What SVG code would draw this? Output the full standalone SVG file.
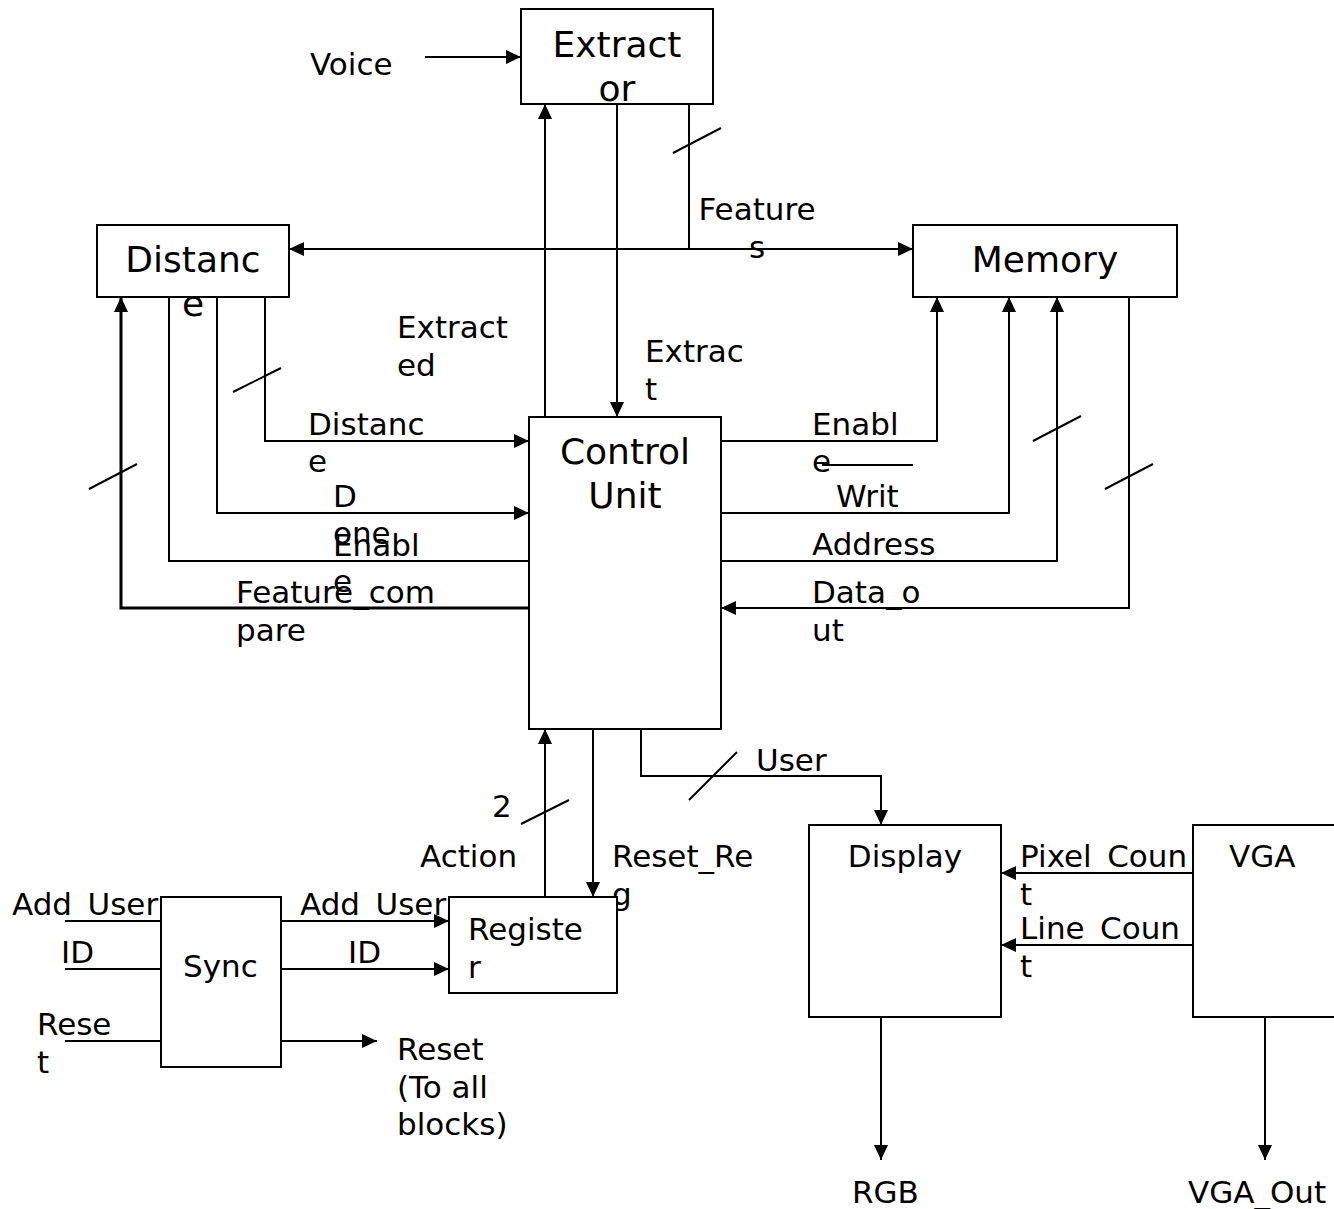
<svg xmlns="http://www.w3.org/2000/svg" width="1334" height="1209" viewBox="0 0 1334 1209">
<style>
.box{fill:#fff;stroke:#000;stroke-width:2}
.ln{fill:none;stroke:#000;stroke-width:2}
.thick{fill:none;stroke:#000;stroke-width:3}
.big{font-family:"DejaVu Sans",sans-serif;font-size:36px;fill:#000}
.sm{font-family:"DejaVu Sans",sans-serif;font-size:31px;fill:#000}
.mid{text-anchor:middle}
</style>
<defs>
<marker id="ah" markerUnits="userSpaceOnUse" markerWidth="16" markerHeight="14" refX="15" refY="7" orient="auto">
<path d="M0,0 L15,7 L0,14 z" fill="#000"/>
</marker>
</defs>
<rect width="1334" height="1209" fill="#fff"/>

<g id="connectors">
<line class="ln" x1="425" y1="57" x2="521" y2="57" marker-end="url(#ah)"/>
<line class="ln" x1="545" y1="417" x2="545" y2="104" marker-end="url(#ah)"/>
<line class="ln" x1="617" y1="104" x2="617" y2="417" marker-end="url(#ah)"/>
<line class="ln" x1="689" y1="104" x2="689" y2="249"/>
<line class="ln" x1="673" y1="153" x2="721" y2="128"/>
<line class="ln" x1="689" y1="249" x2="289" y2="249" marker-end="url(#ah)"/>
<line class="ln" x1="689" y1="249" x2="913" y2="249" marker-end="url(#ah)"/>

<polyline class="thick" points="529,608 121,608 121,297" marker-end="url(#ah)"/>
<line class="ln" x1="89" y1="489" x2="137" y2="464"/>
<polyline class="ln" points="169,297 169,561 529,561"/>
<polyline class="ln" points="217,297 217,513 529,513" marker-end="url(#ah)"/>
<polyline class="ln" points="265,297 265,441 529,441" marker-end="url(#ah)"/>
<line class="ln" x1="233" y1="392" x2="281" y2="368"/>

<polyline class="ln" points="721,441 937,441 937,297" marker-end="url(#ah)"/>
<line class="ln" x1="822" y1="465" x2="913" y2="465"/>
<polyline class="ln" points="721,513 1009,513 1009,297" marker-end="url(#ah)"/>
<polyline class="ln" points="721,561 1057,561 1057,297" marker-end="url(#ah)"/>
<line class="ln" x1="1033" y1="441" x2="1081" y2="416"/>
<polyline class="ln" points="1129,297 1129,608 721,608" marker-end="url(#ah)"/>
<line class="ln" x1="1105" y1="489" x2="1153" y2="464"/>

<line class="ln" x1="545" y1="897" x2="545" y2="729" marker-end="url(#ah)"/>
<line class="ln" x1="521" y1="824" x2="569" y2="800"/>
<line class="ln" x1="593" y1="729" x2="593" y2="897" marker-end="url(#ah)"/>
<polyline class="ln" points="641,729 641,776 881,776 881,825" marker-end="url(#ah)"/>
<line class="ln" x1="689" y1="800" x2="737" y2="752"/>

<line class="ln" x1="1193" y1="873" x2="1001" y2="873" marker-end="url(#ah)"/>
<line class="ln" x1="1193" y1="945" x2="1001" y2="945" marker-end="url(#ah)"/>
<line class="ln" x1="881" y1="1017" x2="881" y2="1160" marker-end="url(#ah)"/>
<line class="ln" x1="1265" y1="1017" x2="1265" y2="1160" marker-end="url(#ah)"/>

<line class="ln" x1="65" y1="921" x2="161" y2="921"/>
<line class="ln" x1="65" y1="969" x2="161" y2="969"/>
<line class="ln" x1="65" y1="1041" x2="161" y2="1041"/>
<line class="ln" x1="281" y1="921" x2="449" y2="921" marker-end="url(#ah)"/>
<line class="ln" x1="281" y1="969" x2="449" y2="969" marker-end="url(#ah)"/>
<line class="ln" x1="281" y1="1041" x2="377" y2="1041" marker-end="url(#ah)"/>
</g>

<g id="labels">
<text class="sm" x="310" y="75">Voice</text>
<text class="sm mid" x="757" y="220">Feature</text>
<text class="sm mid" x="757" y="258">s</text>
<text class="sm" x="397" y="338">Extract</text>
<text class="sm" x="397" y="376">ed</text>
<text class="sm" x="645" y="362">Extrac</text>
<text class="sm" x="645" y="400">t</text>
<text class="sm" x="308" y="435">Distanc</text>
<text class="sm" x="308" y="472">e</text>
<text class="sm" x="333" y="507">D</text>
<text class="sm" x="333" y="544">one</text>
<text class="sm" x="333" y="556">Enabl</text>
<text class="sm" x="333" y="592">e</text>
<text class="sm" x="236" y="603">Feature_com</text>
<text class="sm" x="236" y="641">pare</text>
<text class="sm" x="812" y="435">Enabl</text>
<text class="sm" x="812" y="472">e</text>
<text class="sm" x="836" y="507">Writ</text>
<text class="sm" x="812" y="555">Address</text>
<text class="sm" x="812" y="603">Data_o</text>
<text class="sm" x="812" y="641">ut</text>
<text class="sm" x="492" y="817">2</text>
<text class="sm" x="420" y="867">Action</text>
<text class="sm" x="612" y="867">Reset_Re</text>
<text class="sm" x="612" y="905">g</text>
<text class="sm" x="756" y="771">User</text>
<text class="sm" x="1020" y="867">Pixel_Coun</text>
<text class="sm" x="1020" y="905">t</text>
<text class="sm" x="1020" y="939">Line_Coun</text>
<text class="sm" x="1020" y="977">t</text>
<text class="sm" x="852" y="1203">RGB</text>
<text class="sm" x="1188" y="1203">VGA_Out</text>
<text class="sm" x="12" y="915">Add_User</text>
<text class="sm" x="61" y="963">ID</text>
<text class="sm" x="37" y="1035">Rese</text>
<text class="sm" x="37" y="1073">t</text>
<text class="sm" x="300" y="915">Add_User</text>
<text class="sm" x="348" y="963">ID</text>
<text class="sm" x="397" y="1060">Reset</text>
<text class="sm" x="397" y="1098">(To all</text>
<text class="sm" x="397" y="1135">blocks)</text>
</g>

<g id="extractor">
<rect class="box" x="521" y="9" width="192" height="95"/>
<text class="big mid" x="617" y="57">Extract</text>
<text class="big mid" x="617" y="101">or</text>
</g>
<g id="distance">
<rect class="box" x="97" y="225" width="192" height="72"/>
<text class="big mid" x="193" y="272">Distanc</text>
<text class="big mid" x="193" y="316">e</text>
</g>
<g id="memory">
<rect class="box" x="913" y="225" width="264" height="72"/>
<text class="big mid" x="1045" y="272">Memory</text>
</g>
<g id="control-unit">
<rect class="box" x="529" y="417" width="192" height="312"/>
<text class="big mid" x="625" y="464">Control</text>
<text class="big mid" x="625" y="508">Unit</text>
</g>
<g id="sync">
<rect class="box" x="161" y="897" width="120" height="170"/>
<text class="sm" x="183" y="977">Sync</text>
</g>
<g id="register">
<rect class="box" x="449" y="897" width="168" height="96"/>
<text class="sm" x="468" y="940">Registe</text>
<text class="sm" x="468" y="978">r</text>
</g>
<g id="display">
<rect class="box" x="809" y="825" width="192" height="192"/>
<text class="sm mid" x="905" y="867">Display</text>
</g>
<g id="vga">
<rect class="box" x="1193" y="825" width="150" height="192"/>
<text class="sm" x="1229" y="867">VGA</text>
</g>
</svg>
